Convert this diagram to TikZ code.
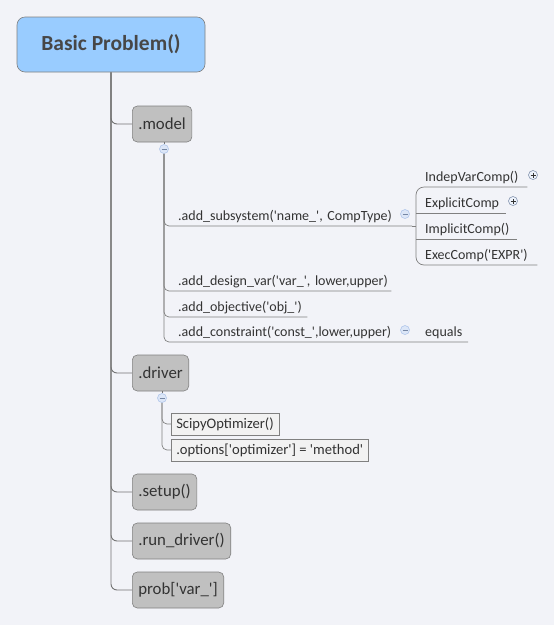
\documentclass[tikz,border=0pt]{standalone}
\usepackage{fontspec}
\setmainfont{Carlito}[Ligatures=TeXOff]
\definecolor{bg}{HTML}{F2F3F8}
\definecolor{rootfill}{HTML}{99CCFF}
\definecolor{boxfill}{HTML}{C0C0C0}
\definecolor{edge}{HTML}{808080}
\definecolor{ink}{HTML}{333333}
\definecolor{leaffill}{HTML}{F2F2F2}
\definecolor{minusfill}{HTML}{DCE6F7}
\definecolor{minusedge}{HTML}{A9C1EA}
\begin{document}
\begin{tikzpicture}[x=1pt,y=-1pt,
  rootbox/.style={draw=edge,fill=rootfill,rounded corners=8pt,minimum width=188pt,minimum height=55pt,font=\fontsize{21.5}{24}\selectfont\bfseries,text=ink!90,line width=0.6pt},
  topbox/.style={draw=edge,fill=boxfill,rounded corners=5pt,minimum height=36pt,inner xsep=6pt,anchor=west,font=\fontsize{16.8}{18}\selectfont,text=ink,line width=0.6pt},
  leafbox/.style={draw=edge,fill=leaffill,minimum height=22pt,inner xsep=5pt,anchor=west,font=\fontsize{14.6}{16}\selectfont,text=ink,line width=0.5pt},
  leaf/.style={anchor=south west,inner xsep=0pt,inner ysep=3pt,font=\fontsize{14}{16}\selectfont,text=ink,align=left},
  conn/.style={draw=edge!90!black,line width=0.9pt,rounded corners=6pt},
  thin/.style={draw=edge,line width=0.7pt,rounded corners=5pt},
  minus/.style={circle,draw=minusedge,fill=minusfill,minimum size=9pt,inner sep=0pt,line width=0.5pt,
    path picture={\draw[draw=minusedge!70!black,line width=0.6pt] ([xshift=-2.5pt]path picture bounding box.center) -- ([xshift=2.5pt]path picture bounding box.center);}},
  plus/.style={circle,draw=minusedge!70!black,fill=minusfill!50,minimum size=9pt,inner sep=0pt,line width=0.5pt,
    path picture={\draw[draw=ink,line width=0.6pt] ([xshift=-2.5pt]path picture bounding box.center) -- ([xshift=2.5pt]path picture bounding box.center) ([yshift=-2.5pt]path picture bounding box.center) -- ([yshift=2.5pt]path picture bounding box.center);}}
]
\fill[bg] (0,0) rectangle (554,625);
\useasboundingbox (0,0) rectangle (554,625);

% root
\node[rootbox] (root) at (111,44.5) {Basic Problem()};

% main topics
\node[topbox] (model) at (132,124) {.model};
\node[topbox] (driver) at (132,373) {.driver};
\node[topbox] (setup) at (132,492) {.setup()};
\node[topbox] (run) at (132,541) {.run\_driver()};
\node[topbox] (prob) at (132,590) {prob['var\_']};

\foreach \t in {model,driver,setup,run,prob}
  \draw[conn] (root.south) |- (\t.west);

% model collapse
\node[minus] (mc) at (164,149) {};
\draw[conn] (model.south -| mc) -- (mc.north);

% model children
\node[leaf,text width=214pt] (ss) at (178,226) {.add\_subsystem('name\_', CompType)};
\node[minus] (ssc) at (405,214) {};
\node[leaf,text width=213pt] (dv) at (178,291) {.add\_design\_var('var\_', lower,upper)};
\node[leaf,text width=129pt] (ob) at (178,317) {.add\_objective('obj\_')};
\node[leaf,text width=220pt] (cs) at (178,342) {.add\_constraint('const\_',lower,upper)};
\node[minus] (csc) at (405,330) {};
\node[leaf,text width=43pt] (eq) at (425,342) {equals};

\coordinate (ssend) at (412,226);
\coordinate (csend) at (468,342);
\draw[thin] (mc.south) |- (ssend);
\draw[thin] (mc.south) |- (dv.south east);
\draw[thin] (mc.south) |- (ob.south east);
\draw[thin] (mc.south) |- (csend);

% subsystem children
\node[leaf,text width=102pt] (iv) at (425,187) {IndepVarComp()};
\node[plus] (ivp) at (533,175) {};
\node[leaf,text width=81pt] (ec) at (425,213) {ExplicitComp};
\node[plus] (ecp) at (513,201) {};
\node[leaf,text width=92pt] (ic) at (425,239) {ImplicitComp()};
\node[leaf,text width=112pt] (xc) at (425,265) {ExecComp('EXPR')};

\coordinate (br) at (416,226);
\draw[thin] (ssend) -- (br);
\draw[thin,rounded corners=8pt] (iv.south east) -| (br) |- (xc.south east);
\draw[thin] (br |- ec.south) -- (ec.south east);
\draw[thin] (br |- ic.south) -- (ic.south east);

% driver collapse and children
\node[minus] (dc) at (162,398) {};
\draw[conn] (driver.south -| dc) -- (dc.north);
\node[leafbox] (sp) at (171,424) {ScipyOptimizer()};
\node[leafbox] (op) at (171,450) {.options['optimizer'] = 'method'};
\draw[thin] (dc.south) |- (sp.west);
\draw[thin] (dc.south) |- (op.west);
\end{tikzpicture}
\end{document}
